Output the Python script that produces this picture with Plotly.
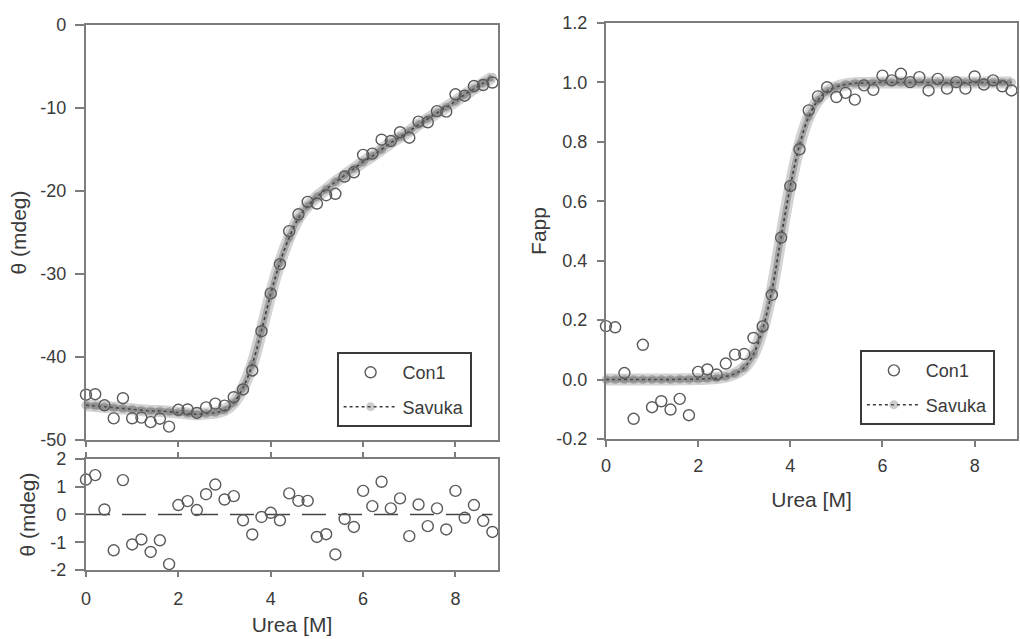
import plotly.graph_objects as go

# ---------------- data ----------------
urea = [0.0, 0.2, 0.4, 0.6, 0.8, 1.0, 1.2, 1.4, 1.6, 1.8,
        2.0, 2.2, 2.4, 2.6, 2.8, 3.0, 3.2, 3.4, 3.6, 3.8,
        4.0, 4.2, 4.4, 4.6, 4.8, 5.0, 5.2, 5.4, 5.6, 5.8,
        6.0, 6.2, 6.4, 6.6, 6.8, 7.0, 7.2, 7.4, 7.6, 7.8,
        8.0, 8.2, 8.4, 8.6, 8.8]

theta_con1 = [-44.54, -44.48, -45.82, -47.39, -44.96, -47.38, -47.30, -47.85, -47.43, -48.39,
              -46.36, -46.32, -46.74, -46.07, -45.62, -45.86, -44.84, -43.91, -41.62, -36.89,
              -32.34, -28.81, -24.84, -22.81, -21.31, -21.51, -20.51, -20.34, -18.26, -17.75,
              -15.65, -15.50, -13.82, -13.98, -12.92, -13.58, -11.64, -11.72, -10.38, -10.44,
              -8.35, -8.52, -7.36, -7.23, -6.93]

theta_savuka = [-45.8, -45.9, -46.0, -46.1, -46.2, -46.3, -46.4, -46.5, -46.5, -46.6,
                -46.7, -46.8, -46.9, -46.8, -46.7, -46.4, -45.5, -43.7, -40.9, -36.8,
                -32.4, -28.6, -25.6, -23.3, -21.8, -20.7, -19.8, -18.9, -18.1, -17.3,
                -16.5, -15.8, -15.0, -14.2, -13.5, -12.8, -12.0, -11.3, -10.6, -9.9,
                -9.2, -8.4, -7.7, -7.0, -6.3]

theta_resid = [1.26, 1.42, 0.18, -1.29, 1.24, -1.08, -0.90, -1.35, -0.93, -1.79,
               0.34, 0.48, 0.16, 0.73, 1.08, 0.54, 0.66, -0.21, -0.72, -0.09,
               0.06, -0.21, 0.76, 0.49, 0.49, -0.81, -0.71, -1.44, -0.16, -0.45,
               0.85, 0.30, 1.18, 0.22, 0.58, -0.78, 0.36, -0.42, 0.22, -0.54,
               0.85, -0.12, 0.34, -0.23, -0.63]

fapp_con1 = [0.180, 0.176, 0.022, -0.132, 0.117, -0.093, -0.073, -0.101, -0.065, -0.120,
             0.026, 0.034, 0.017, 0.054, 0.084, 0.086, 0.140, 0.179, 0.285, 0.478,
             0.651, 0.775, 0.906, 0.953, 0.984, 0.951, 0.965, 0.942, 0.990, 0.975,
             1.023, 1.007, 1.029, 1.001, 1.018, 0.973, 1.012, 0.979, 1.001, 0.979,
             1.020, 0.993, 1.007, 0.987, 0.973]

fapp_savuka = [0.0, 0.0, 0.0, 0.0, 0.0, 0.0, 0.0, 0.0, 0.001, 0.001,
               0.002, 0.003, 0.005, 0.010, 0.020, 0.040, 0.085, 0.170, 0.300, 0.480,
               0.650, 0.790, 0.885, 0.940, 0.970, 0.985, 0.993, 0.997, 0.998, 0.999,
               1.0, 1.0, 1.0, 1.0, 1.0, 1.0, 1.0, 1.0, 1.0, 1.0,
               1.0, 1.0, 1.0, 1.0, 1.0]

zero_level = 0.0
x_ticks = [0, 2, 4, 6, 8]
theta_ticks = [0, -10, -20, -30, -40, -50]
theta_ticktext = ["0", "-10", "-20", "-30", "-40", "-50"]
resid_ticks = [2, 1, 0, -1, -2]
resid_ticktext = ["2", "1", "0", "-1", "-2"]
fapp_ticks = [1.2, 1.0, 0.8, 0.6, 0.4, 0.2, 0.0, -0.2]
fapp_ticktext = ["1.2", "1.0", "0.8", "0.6", "0.4", "0.2", "0.0", "-0.2"]

# ---------------- styles ----------------
FONT = "Liberation Sans, Arial, sans-serif"
TXT = "#3a3a3a"
AX = "#7d7d7d"
circle_col = "#5a5a5a"

fig = go.Figure()


def add_fit(xa, ya, yvals, legend, show):
    # fuzzy gray band
    fig.add_trace(go.Scatter(x=urea, y=yvals, mode="lines", xaxis=xa, yaxis=ya,
                             line=dict(color="rgba(175,175,175,0.55)", width=12, shape="spline"),
                             showlegend=False, hoverinfo="skip", legend=legend))
    fig.add_trace(go.Scatter(x=urea, y=yvals, mode="lines", xaxis=xa, yaxis=ya,
                             line=dict(color="rgba(105,105,105,0.45)", width=6, shape="spline"),
                             showlegend=False, hoverinfo="skip", legend=legend))
    fig.add_trace(go.Scatter(x=urea, y=yvals, mode="lines+markers", name="Savuka",
                             xaxis=xa, yaxis=ya, legend=legend, legendrank=2,
                             legendgroup="fit" + legend,
                             showlegend=show, cliponaxis=False,
                             line=dict(color="#3c3c3c", width=1.6, dash="dot", shape="spline"),
                             marker=dict(symbol="circle", size=9, color="rgba(110,110,110,0.35)",
                                         line=dict(width=0))))


def add_data(xa, ya, yvals, legend, show):
    fig.add_trace(go.Scatter(x=urea, y=yvals, mode="markers", name="Con1",
                             xaxis=xa, yaxis=ya, legend=legend, legendrank=1,
                             legendgroup="data" + legend,
                             showlegend=show, cliponaxis=False,
                             marker=dict(symbol="circle-open", size=11,
                                         line=dict(width=1.4, color=circle_col),
                                         color=circle_col)))


# top-left: theta vs urea
add_fit("x", "y", theta_savuka, "legend", True)
add_data("x", "y", theta_con1, "legend", True)

# residuals
fig.add_trace(go.Scatter(x=[urea[0], urea[-1]], y=[zero_level, zero_level], mode="lines",
                         xaxis="x2", yaxis="y2", showlegend=False, hoverinfo="skip",
                         line=dict(color="#444444", width=1.3, dash="24px,12px")))
fig.add_trace(go.Scatter(x=urea, y=theta_resid, mode="markers", xaxis="x2", yaxis="y2",
                         showlegend=False, cliponaxis=False,
                         marker=dict(symbol="circle-open", size=11, color=circle_col,
                                     line=dict(width=1.4, color=circle_col))))

# right: Fapp
add_fit("x3", "y3", fapp_savuka, "legend2", True)
add_data("x3", "y3", fapp_con1, "legend2", True)

# ---------------- axes ----------------
xl = [0.0843, 0.4882]
xr = [0.5941, 0.9971]
xrange = [0, 8.92]

base_ax = dict(showline=True, linecolor=AX, linewidth=2, showgrid=False, zeroline=False,
               tickcolor=AX, tickwidth=1.5, automargin=False,
               tickfont=dict(family=FONT, size=18, color=TXT),
               title_font=dict(family=FONT, size=21, color=TXT))

legend_common = dict(xanchor="left", yanchor="top",
                     bgcolor="white", bordercolor="#3a3a3a", borderwidth=2,
                     font=dict(family=FONT, size=18, color=TXT), itemwidth=54,
                     traceorder="grouped", tracegroupgap=8,
                     entrywidth=110, entrywidthmode="pixels")

fig.update_layout(
    width=1020, height=639,
    margin=dict(l=0, r=0, t=0, b=0, autoexpand=False),
    paper_bgcolor="white", plot_bgcolor="white",
    font=dict(family=FONT, color=TXT),
    xaxis=dict(base_ax, domain=xl, anchor="y", range=xrange, tickvals=x_ticks,
               ticks="outside", ticklen=5, showticklabels=False, mirror=True),
    xaxis4=dict(overlaying="x", anchor="y", range=xrange, tickvals=x_ticks,
                ticks="inside", ticklen=5, tickcolor=AX, tickwidth=1.5, automargin=False,
                showticklabels=False, showline=False, showgrid=False, zeroline=False),
    yaxis=dict(base_ax, domain=[0.3114, 0.9609], anchor="x", range=[-50, 0],
               tickvals=theta_ticks, ticktext=theta_ticktext,
               ticks="outside", ticklen=9, ticklabelstandoff=5, mirror=True,
               title=dict(text="θ (mdeg)", standoff=8)),
    xaxis2=dict(base_ax, domain=xl, anchor="y2", range=xrange, tickvals=x_ticks,
                ticks="outside", ticklen=5, mirror="ticks", ticklabelstandoff=6,
                title=dict(text="Urea [M]", standoff=10)),
    xaxis5=dict(overlaying="x2", anchor="y2", range=xrange, tickvals=x_ticks,
                ticks="inside", ticklen=5, tickcolor=AX, tickwidth=1.5, mirror="ticks",
                automargin=False,
                showticklabels=False, showline=False, showgrid=False, zeroline=False),
    yaxis2=dict(base_ax, domain=[0.1080, 0.2817], anchor="x2", range=[-2, 2],
                tickvals=resid_ticks, ticktext=resid_ticktext,
                ticks="outside", ticklen=9, ticklabelstandoff=5, mirror=True,
                title=dict(text="θ (mdeg)", standoff=9)),
    xaxis3=dict(base_ax, domain=xr, anchor="y3", range=xrange, tickvals=x_ticks,
                ticks="outside", ticklen=6, mirror=True, ticklabelstandoff=3,
                title=dict(text="Urea [M]", standoff=18)),
    yaxis3=dict(base_ax, domain=[0.3130, 0.9640], anchor="x3", range=[-0.2, 1.2],
                tickvals=fapp_ticks, ticktext=fapp_ticktext,
                ticks="outside", ticklen=7, ticklabelstandoff=6, mirror=True,
                title=dict(text="Fapp", standoff=4)),
    legend=dict(legend_common, x=0.330, y=0.449),
    legend2=dict(legend_common, x=0.843, y=0.452),
)

fig.write_html("out.html", config={"displayModeBar": False},
               post_script="document.body.style.margin='0';")
